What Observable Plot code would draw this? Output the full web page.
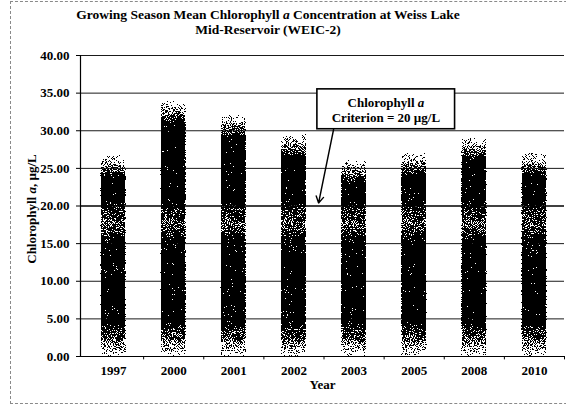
<!DOCTYPE html>
<html><head><meta charset="utf-8">
<script src="https://cdn.jsdelivr.net/npm/d3@7"></script>
<script src="https://cdn.jsdelivr.net/npm/@observablehq/plot@0.6"></script>
<style>
body{margin:0;background:#fff;}
#wrap{position:relative;width:566px;height:406px;overflow:hidden;font-family:"Liberation Serif","Times New Roman",Times,serif;background:#fff;}
#title{position:absolute;left:68px;top:7px;width:400px;text-align:center;font-weight:bold;font-size:13.5px;line-height:15px;color:#000;}
#border{position:absolute;left:10px;top:1px;width:620px;height:401px;border:1px dashed #8a8a8a;}
#chart{position:absolute;left:0;top:40px;}
</style>
</head><body>
<div id="wrap">
<div id="border"></div>
<div id="title">Growing Season Mean Chlorophyll <i>a</i> Concentration at Weiss Lake<br>Mid-Reservoir (WEIC-2)</div>
<div id="chart"></div>
</div>
<script>
const years = ["1997","2000","2001","2002","2003","2005","2008","2010"];
const values = [26.7, 33.8, 32.0, 29.4, 26.0, 27.0, 29.0, 27.0];
const yTicks = [0,5,10,15,20,25,30,35,40];
const criterion = 20;

const data = years.map((year, i) => ({i, year, value: values[i]}));

const plot = Plot.plot({
  width: 566,
  height: 366,
  marginLeft: 80,
  marginRight: 2,
  marginTop: 15,
  marginBottom: 50,
  style: {fontFamily: "'Liberation Serif','Times New Roman',Times,serif", fontSize: "13px", fontWeight: "bold", color: "#000", background: "transparent"},
  x: {domain: [-0.55, 7.5], ticks: d3.range(years.length), tickFormat: i => years[i], tickSize: 0, tickPadding: 9, label: null},
  y: {domain: [0, 40], ticks: yTicks, tickFormat: d => d.toFixed(2), tickSize: 4, tickPadding: 7, label: null},
  marks: [
    Plot.ruleY(yTicks.filter(d => d > 0 && d !== criterion), {stroke: "#1a1a1a", strokeWidth: 1}),
    Plot.rectY(data, {x1: d => d.i - 0.205, x2: d => d.i + 0.205, y: "value", fill: "#000"}),
    Plot.ruleY([criterion], {stroke: "#000", strokeWidth: 1.6}),
    Plot.ruleY([0], {stroke: "#000", strokeWidth: 1.2}),
    Plot.ruleX([-0.55], {stroke: "#000", strokeWidth: 1.2}),
    Plot.ruleX(d3.range(0.5, 8, 1), {y1: 0, y2: -0.45, stroke: "#000"}),
    Plot.rect([0], {x1: 3.39, x2: 5.68, y1: 30.2, y2: 35.5, fill: "#fff", stroke: "#000", strokeWidth: 1.6}),
    Plot.text(["Chlorophyll a"], {x: 4.53, y: 33.75, text: d => d, fontWeight: "bold", fontSize: 13}),
    Plot.text(["Criterion = 20 µg/L"], {x: 4.53, y: 31.75, text: d => d, fontWeight: "bold", fontSize: 13}),
    Plot.arrow([0], {x1: 3.66, y1: 30.2, x2: 3.41, y2: 20.4, stroke: "#000", strokeWidth: 1.4, headLength: 8, bend: 0}),
    Plot.text(["Chlorophyll a, µg/L"], {frameAnchor: "left", y: 19.6, dx: -49, rotate: -90, textAnchor: "middle", text: d => d, fontWeight: "bold", fontSize: 13}),
    Plot.text(["Year"], {frameAnchor: "bottom", dy: 32, text: d => d, fontWeight: "bold", fontSize: 13})
  ]
});
document.getElementById("chart").appendChild(plot);

// italic "a"
plot.querySelectorAll("text").forEach(t => {
  if (t.textContent === "Chlorophyll a, µg/L") t.innerHTML = 'Chlorophyll <tspan font-style="italic">a</tspan>, µg/L';
  else if (t.textContent === "Chlorophyll a") t.innerHTML = 'Chlorophyll <tspan font-style="italic">a</tspan>';
});

// gradient + stipple for bars
const svgns = "http://www.w3.org/2000/svg";
const defs = document.createElementNS(svgns, "defs");
defs.innerHTML = `<filter id="dither" x="0" y="0" width="1" height="1" color-interpolation-filters="sRGB">
  <feTurbulence type="fractalNoise" baseFrequency="0.95" numOctaves="2" seed="7" result="noise"/>
  <feColorMatrix in="noise" type="matrix" values="0 0 0 0 0  0 0 0 0 0  0 0 0 0 0  1 0 0 0 0" result="na"/>
  <feComposite in="SourceGraphic" in2="na" operator="arithmetic" k1="0" k2="1.5" k3="3" k4="-1.75" result="sum"/>
  <feComponentTransfer in="sum">
    <feFuncR type="linear" slope="0" intercept="0"/>
    <feFuncG type="linear" slope="0" intercept="0"/>
    <feFuncB type="linear" slope="0" intercept="0"/>
    <feFuncA type="discrete" tableValues="0 1"/>
  </feComponentTransfer>
</filter>`;
plot.insertBefore(defs, plot.firstChild);
const stopsFor = v => [
  [v, 0.2], [v - 0.7, 0.35], [v - 1.5, 0.5], [v - 2.3, 0.7], [v - 2.9, 0.9], [v - 3.4, 1],
  [21, 1], [19.6, 0.8], [17.8, 0.6], [16, 0.78], [14.5, 1],
  [5, 1], [3.5, 0.78], [2, 0.55], [0.8, 0.35], [0, 0.15]
];
const barGroup = plot.querySelectorAll('g[aria-label="rect"]')[0];
barGroup.querySelectorAll("rect").forEach((r, k) => {
  const v = values[k];
  const g = document.createElementNS(svgns, "linearGradient");
  g.setAttribute("id", "bg" + k);
  g.setAttribute("x1", 0); g.setAttribute("y1", 0); g.setAttribute("x2", 0); g.setAttribute("y2", 1);
  stopsFor(v).forEach(([val, op]) => {
    const s = document.createElementNS(svgns, "stop");
    s.setAttribute("offset", Math.max(0, Math.min(1, 1 - val / v)));
    s.setAttribute("stop-color", "#000");
    s.setAttribute("stop-opacity", op);
    g.appendChild(s);
  });
  defs.appendChild(g);
  r.setAttribute("fill", `url(#bg${k})`);
  r.setAttribute("filter", "url(#dither)");
});
</script>
</body></html>
